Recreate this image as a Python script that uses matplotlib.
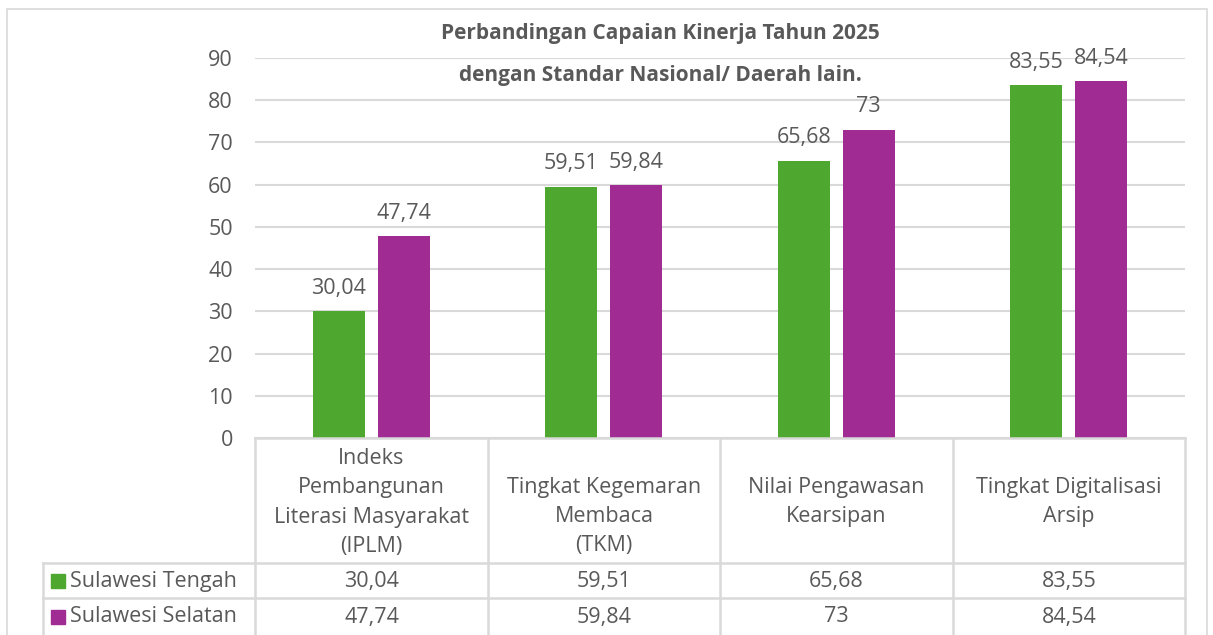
import numpy as np
import matplotlib
matplotlib.use('Agg')
import matplotlib.pyplot as plt
from matplotlib.lines import Line2D
from matplotlib.patches import Rectangle

plt.rcParams['font.family'] = ['Open Sans', 'DejaVu Sans']

categories = ['Indeks\nPembangunan\nLiterasi Masyarakat\n(IPLM)',
              'Tingkat Kegemaran\nMembaca\n(TKM)',
              'Nilai Pengawasan\nKearsipan',
              'Tingkat Digitalisasi\nArsip']
series_names = ['Sulawesi Tengah', 'Sulawesi Selatan']
tengah = [30.04, 59.51, 65.68, 83.55]
selatan = [47.74, 59.84, 73, 84.54]
tengah_lbl = ['30,04', '59,51', '65,68', '83,55']
selatan_lbl = ['47,74', '59,84', '73', '84,54']
yticks = [0, 10, 20, 30, 40, 50, 60, 70, 80, 90]

green = '#4EA72E'
purple = '#A02B93'
txt = '#595959'
grid = '#D9D9D9'
fs = 15.5

W, H = 1213, 635
fig = plt.figure(figsize=(W / 100, H / 100), dpi=100)

def fx(px):
    return px / W

def fy(py):
    return 1 - py / H

# chart border
fig.add_artist(Rectangle((fx(7), fy(640)), fx(1200), fy(9) - fy(640),
                         transform=fig.transFigure, fill=False,
                         edgecolor=grid, lw=1.2))

x0, x1, ytop, ybot = 255, 1185, 58, 438
ax = fig.add_axes([fx(x0), fy(ybot), fx(x1 - x0), fy(ytop) - fy(ybot)])
ax.set_xlim(-0.5, 3.5)
ax.set_ylim(0, 90)

x = np.arange(len(categories))
bw = 0.224
gap = 0.056
off = (bw + gap) / 2
b1 = ax.bar(x - off, tengah, bw, color=green, zorder=3)
b2 = ax.bar(x + off, selatan, bw, color=purple, zorder=3)

for bars, lbls in ((b1, tengah_lbl), (b2, selatan_lbl)):
    for b, l in zip(bars, lbls):
        ax.annotate(l, (b.get_x() + b.get_width() / 2, b.get_height()),
                    xytext=(0, 9), textcoords='offset points',
                    ha='center', va='bottom', fontsize=fs, color=txt)

ax.set_yticks(yticks)
ax.set_yticklabels([str(t) for t in yticks], fontsize=fs, color=txt)
ax.tick_params(axis='y', length=0, pad=16)
ax.set_xticks([])
ax.yaxis.grid(True, color=grid, lw=1.5, zorder=0)
for s in ax.spines.values():
    s.set_visible(False)

# title
fig.text(fx(660), fy(33), 'Perbandingan Capaian Kinerja Tahun 2025',
         ha='center', va='center', fontsize=15, fontweight='bold', color=txt)
fig.text(fx(660), fy(75), 'dengan Standar Nasional/ Daerah lain.',
         ha='center', va='center', fontsize=15, fontweight='bold', color=txt)

# data table
cols = [255, 488, 720, 953, 1185]
r0, r1, r2 = 438, 563, 598

def hline(y, xa, xb):
    fig.add_artist(Line2D([fx(xa), fx(xb)], [fy(y), fy(y)],
                          transform=fig.transFigure, color=grid, lw=1.8))

def vline(xp, ya, yb):
    fig.add_artist(Line2D([fx(xp), fx(xp)], [fy(ya), fy(yb)],
                          transform=fig.transFigure, color=grid, lw=1.8))

hline(r0, cols[0], cols[-1])
hline(r1, 43, cols[-1])
hline(r2, 43, cols[-1])
for c in cols:
    vline(c, r0, 640)
vline(43, r1, 640)

for i, cat in enumerate(categories):
    cx = (cols[i] + cols[i + 1]) / 2
    lines = cat.split('\n')
    start = 458 if len(lines) == 4 else 487
    for k, ln in enumerate(lines):
        fig.text(fx(cx), fy(start + 29.5 * k), ln, ha='center', va='center',
                 fontsize=fs, color=txt)
    fig.text(fx(cx), fy(581), tengah_lbl[i], ha='center', va='center',
             fontsize=fs, color=txt)
    fig.text(fx(cx), fy(617), selatan_lbl[i], ha='center', va='center',
             fontsize=fs, color=txt)

for yc, col, name in ((581, green, series_names[0]), (617, purple, series_names[1])):
    fig.add_artist(Rectangle((fx(51), fy(yc + 7)), fx(14), fy(yc - 7) - fy(yc + 7),
                             transform=fig.transFigure, color=col))
    fig.text(fx(70), fy(yc), name, ha='left', va='center', fontsize=fs, color=txt)

fig.savefig('out.png', dpi=100)
